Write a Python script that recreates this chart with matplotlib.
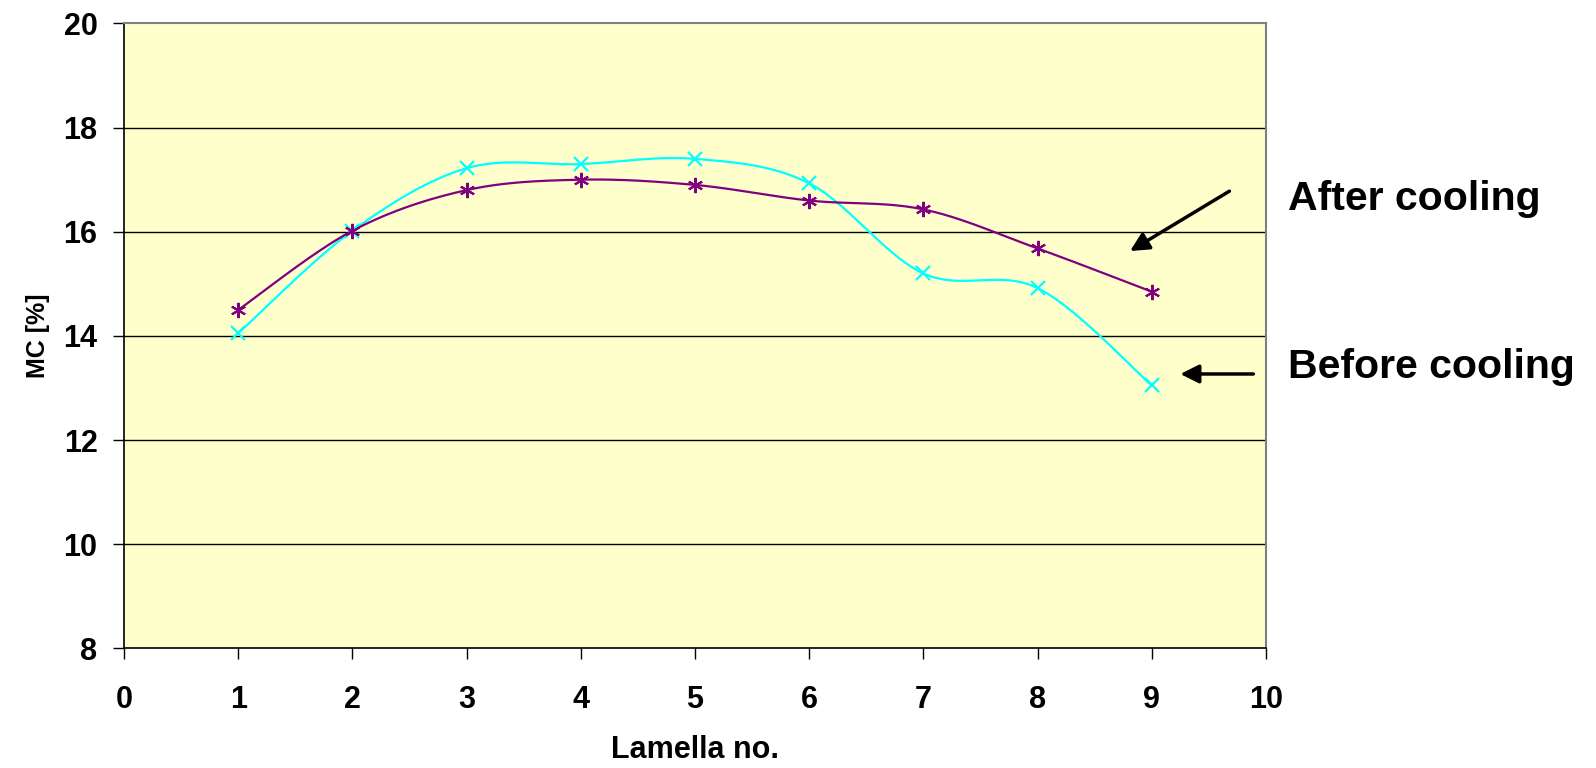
import numpy as np
import matplotlib
matplotlib.use("Agg")
import matplotlib.pyplot as plt

lamella = [1, 2, 3, 4, 5, 6, 7, 8, 9]
before_cooling = [14.05, 16.02, 17.22, 17.30, 17.40, 16.93, 15.20, 14.92, 13.05]
after_cooling = [14.50, 16.02, 16.80, 17.00, 16.90, 16.60, 16.43, 15.68, 14.85]
xticks = list(range(0, 11))
yticks = [8, 10, 12, 14, 16, 18, 20]

plt.rcParams['font.family'] = ['Liberation Sans', 'DejaVu Sans']
plt.rcParams['font.weight'] = 'bold'


def excel_smooth(x, y, n=40):
    """Excel-style smoothed line: cubic Bezier with Catmull-Rom control points."""
    x = np.asarray(x, float)
    y = np.asarray(y, float)
    px = np.concatenate([[x[0]], x, [x[-1]]])
    py = np.concatenate([[y[0]], y, [y[-1]]])
    xs, ys = [], []
    t = np.linspace(0, 1, n)
    for i in range(1, len(px) - 2):
        p0 = np.array([px[i], py[i]])
        p3 = np.array([px[i + 1], py[i + 1]])
        p1 = p0 + (np.array([px[i + 1], py[i + 1]]) - np.array([px[i - 1], py[i - 1]])) / 6
        p2 = p3 - (np.array([px[i + 2], py[i + 2]]) - np.array([px[i], py[i]])) / 6
        b = ((1 - t) ** 3)[:, None] * p0 + (3 * (1 - t) ** 2 * t)[:, None] * p1 \
            + (3 * (1 - t) * t ** 2)[:, None] * p2 + (t ** 3)[:, None] * p3
        xs.append(b[:, 0])
        ys.append(b[:, 1])
    return np.concatenate(xs), np.concatenate(ys)


fig = plt.figure(figsize=(15.96, 7.68), dpi=100)
ax = fig.add_axes([0.0777, 0.1556, 0.7155, 0.8139])
ax.set_facecolor('#FFFFCC')

ax.set_xlim(0, 10)
ax.set_ylim(8, 20)
ax.set_xticks(xticks)
ax.set_yticks(yticks)

for yv in yticks[1:-1]:
    ax.axhline(yv, color='black', lw=1.0, zorder=1)

sx, sy = excel_smooth(lamella, before_cooling)
ax.plot(sx, sy, color='#00FFFF', lw=1.6, zorder=3)
ax.plot(lamella, before_cooling, ls='none', marker='x', ms=10, mew=1.6,
        color='#00FFFF', zorder=4)

sx, sy = excel_smooth(lamella, after_cooling)
ax.plot(sx, sy, color='#800080', lw=1.6, zorder=3)
ax.plot(lamella, after_cooling, ls='none', marker=(6, 2, 0), ms=11, mew=1.5,
        color='#800080', zorder=4)

for side in ['top', 'right']:
    ax.spines[side].set_color('#808080')
    ax.spines[side].set_linewidth(1.5)
for side in ['left', 'bottom']:
    ax.spines[side].set_color('black')
    ax.spines[side].set_linewidth(1.2)

ax.tick_params(axis='both', direction='out', length=8, width=1.0, color='black',
               labelsize=22)
ax.tick_params(axis='x', pad=18)
ax.tick_params(axis='y', pad=11)
for lbl in ax.get_xticklabels() + ax.get_yticklabels():
    lbl.set_fontweight('bold')

ax.set_xlabel('Lamella no.', fontsize=22, fontweight='bold', labelpad=15)
ax.set_ylabel('MC [%]', fontsize=18, fontweight='bold', labelpad=10)

ax.annotate('', xy=(8.81, 15.63), xytext=(9.68, 16.78),
            arrowprops=dict(arrowstyle='-|>', color='black', lw=2.5,
                            mutation_scale=28, shrinkA=0, shrinkB=0))
ax.annotate('', xy=(9.25, 13.27), xytext=(9.89, 13.27),
            arrowprops=dict(arrowstyle='-|>', color='black', lw=2.5,
                            mutation_scale=28, shrinkA=0, shrinkB=0))

fig.text(0.807, 0.741, 'After cooling', fontsize=29.5, fontweight='bold',
         ha='left', va='center')
fig.text(0.807, 0.522, 'Before cooling', fontsize=29.5, fontweight='bold',
         ha='left', va='center')

fig.savefig('out.png', dpi=100, facecolor='white')
